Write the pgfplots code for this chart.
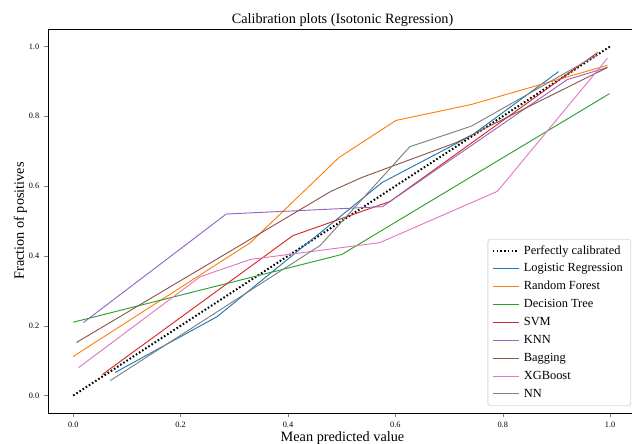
\documentclass[border=0pt]{standalone}
\usepackage{fontspec}
\setmainfont{Liberation Serif}
\usepackage{pgfplots}
\pgfplotsset{compat=1.18}
\definecolor{tabblue}{HTML}{1F77B4}
\definecolor{taborange}{HTML}{FF7F0E}
\definecolor{tabgreen}{HTML}{2CA02C}
\definecolor{tabred}{HTML}{D62728}
\definecolor{tabpurple}{HTML}{9467BD}
\definecolor{tabbrown}{HTML}{8C564B}
\definecolor{tabpink}{HTML}{E377C2}
\definecolor{tabgray}{HTML}{7F7F7F}
\begin{document}
\begin{tikzpicture}[x=1pt,y=1pt]
\useasboundingbox (-36,-22.5) rectangle (438,309.75);
\begin{axis}[
  at={(0,0)}, anchor=south west,
  scale only axis, width=441.75pt, height=288pt,
  xmin=-0.047, xmax=1.05, ymin=-0.05, ymax=1.05,
  line width=0.6pt,
  tick pos=left, tick align=outside,
  major tick length=3pt,
  xtick={0,0.2,0.4,0.6,0.8,1.0},
  ytick={0,0.2,0.4,0.6,0.8,1.0},
  /pgf/number format/assume math mode=true,
  xticklabel={\pgfmathprintnumber[fixed,fixed zerofill,precision=1]{\tick}},
  yticklabel={\pgfmathprintnumber[fixed,fixed zerofill,precision=1]{\tick}},
  tick label style={font=\fontsize{6.2}{7}\selectfont},
  every axis title shift=0pt,
  title={Calibration plots (Isotonic Regression)},
  title style={at={(axis description cs:0.5,1)}, anchor=base, yshift=3.75pt, font=\fontsize{10.7}{12}\selectfont, inner sep=0pt},
  xlabel={Mean predicted value},
  xlabel style={at={(axis description cs:0.5,0)}, anchor=base, yshift=-21pt, font=\fontsize{10.7}{12}\selectfont, inner sep=0pt},
  ylabel={Fraction of positives},
  ylabel style={at={(axis description cs:-0.041,0.5)}, rotate=0, anchor=base, font=\fontsize{10.7}{12}\selectfont, inner sep=0pt},
  legend cell align=left,
  legend image code/.code={\draw[#1] (0pt,0pt) -- (19.5pt,0pt);},
  legend style={at={(rel axis cs:0.99,0.018)}, anchor=south east,
    draw=black!15, rounded corners=2pt, fill=white, line width=0.6pt,
    font=\fontsize{9.3}{11}\selectfont, row sep=1.8pt, inner xsep=3pt, inner ysep=3pt,
    nodes={inner xsep=3pt, inner ysep=1.5pt, text height=6.6pt, text depth=2pt}},
  every axis plot/.append style={line width=0.7pt},
]
\addplot[black, line width=1.5pt, dash pattern=on 1.2pt off 1.6pt] coordinates {(0,0) (1,1)};
\addlegendentry{Perfectly calibrated}
\addplot[tabblue] coordinates {(0.078,0.066) (0.268,0.226) (0.575,0.61) (0.742,0.745) (0.904,0.928)};
\addlegendentry{Logistic Regression}
\addplot[taborange] coordinates {(0.0,0.112) (0.33,0.438) (0.495,0.682) (0.601,0.788) (0.742,0.834) (0.995,0.946)};
\addlegendentry{Random Forest}
\addplot[tabgreen] coordinates {(0.0,0.21) (0.5,0.404) (0.999,0.865)};
\addlegendentry{Decision Tree}
\addplot[tabred] coordinates {(0.054,0.06) (0.409,0.458) (0.59,0.556) (0.977,0.983)};
\addlegendentry{SVM}
\addplot[tabpurple] coordinates {(0.019,0.209) (0.285,0.52) (0.576,0.541) (0.92,0.905) (0.995,0.94)};
\addlegendentry{KNN}
\addplot[tabbrown] coordinates {(0.006,0.152) (0.48,0.585) (0.538,0.625) (0.714,0.725) (0.995,0.94)};
\addlegendentry{Bagging}
\addplot[tabpink] coordinates {(0.01,0.08) (0.236,0.34) (0.33,0.39) (0.571,0.438) (0.79,0.585) (0.995,0.966)};
\addlegendentry{XGBoost}
\addplot[tabgray] coordinates {(0.069,0.043) (0.46,0.43) (0.627,0.713) (0.742,0.772) (0.975,0.975)};
\addlegendentry{NN}
\end{axis}
\end{tikzpicture}
\end{document}
